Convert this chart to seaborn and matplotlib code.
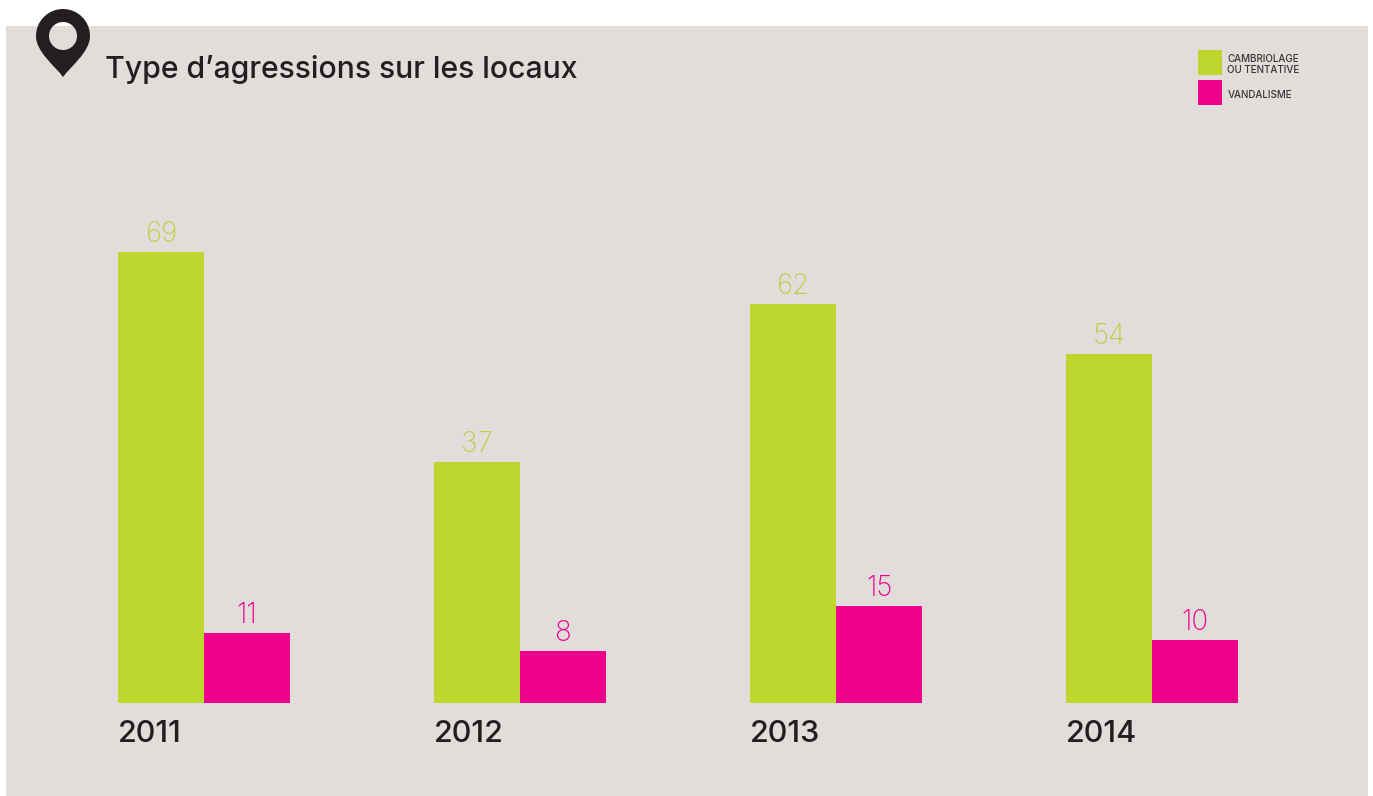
import numpy as np
import pandas as pd
import matplotlib
matplotlib.use("Agg")
import matplotlib.pyplot as plt
from matplotlib.patches import Rectangle, PathPatch
from matplotlib.path import Path
import seaborn as sns

years = ["2011", "2012", "2013", "2014"]
# printed numbers
cambriolage_labels = [69, 37, 62, 54]
vandalisme_labels = [11, 8, 15, 10]
# bar heights as drawn in the picture (they differ a little from the printed numbers)
cambriolage = [69, 36.9, 61.05, 53.4]
vandalisme = [10.7, 7.96, 14.8, 9.64]
series_names = ["CAMBRIOLAGE\nOU TENTATIVE", "VANDALISME"]

W, H = 1373, 796
GREEN = "#bed72f"
PINK = "#ee008c"
PANEL = "#e2dddb"
DARK = "#231f20"

sns.set_style("white")
plt.rcParams["font.family"] = ["Inter", "DejaVu Sans"]

df = pd.DataFrame({
    "year": years * 2,
    "count": cambriolage + vandalisme,
    "type": [series_names[0]] * 4 + [series_names[1]] * 4,
})

fig = plt.figure(figsize=(W / 100, H / 100), dpi=100, facecolor="white")

# grey panel behind everything
fig.patches.append(Rectangle((6 / W, 0), 1362 / W, 770 / H, transform=fig.transFigure,
                             facecolor=PANEL, edgecolor="none", zorder=-5))

# axes runs from the baseline to the top of the panel
ax = fig.add_axes([6 / W, (H - 703) / H, 1362 / W, 677 / H])
ax.patch.set_alpha(0)

bar_width = 172 / 316
sns.barplot(data=df, x="year", y="count", hue="type", order=years, hue_order=series_names,
            palette=[GREEN, PINK], width=bar_width, gap=0, saturation=1, linewidth=0, ax=ax)

ax.set_xlim((6 - 204) / 316, (1368 - 204) / 316)
ax.set_ylim(0, 677 / (451 / 69))

label_colors = ["#bccf45", PINK]
label_lists = [cambriolage_labels, vandalisme_labels]
for cont, col, labs in zip(ax.containers, label_colors, label_lists):
    ax.bar_label(cont, labels=[str(v) for v in labs], color=col, fontsize=20, fontweight=200, padding=3)

ax.set_xticks(np.arange(len(years)) - bar_width / 2)
ax.set_xticklabels(years, ha="left", fontsize=22, fontweight=500, color=DARK)
ax.tick_params(axis="x", length=0, pad=12)
ax.set_yticks([])
ax.set_xlabel("")
ax.set_ylabel("")
sns.despine(ax=ax, left=True, bottom=True, top=True, right=True)

leg = ax.legend(loc="upper left", bbox_to_anchor=((1198 - 6) / 1362, (703 - 50) / 677),
                bbox_transform=ax.transAxes, frameon=False, fontsize=7.1, borderpad=0,
                borderaxespad=0, handlelength=2.43, handleheight=3.52, handletextpad=0.55,
                labelspacing=0.5, title=None, labelcolor="#3a3536")
for txt in leg.get_texts():
    txt.set_y(-3)
    txt.set_fontweight(500)
    txt.set_linespacing(1.1)

# title
fig.text(105 / W, 1 - 69 / H, "Type d\u2019agressions sur les locaux", fontsize=21.75,
         fontweight=500, color=DARK, va="center", ha="left")

# map pin
k = 0.5523
cx, cy, r, tip = 63, 36, 27, 77
ri = 14
verts = [
    (cx, tip), (cx - 8, 66), (cx - r, 52), (cx - r, cy),
    (cx - r, cy - r * k), (cx - r * k, cy - r), (cx, cy - r),
    (cx + r * k, cy - r), (cx + r, cy - r * k), (cx + r, cy),
    (cx + r, 52), (cx + 8, 66), (cx, tip), (cx, tip),
    (cx, cy - ri), (cx - ri * k, cy - ri), (cx - ri, cy - ri * k), (cx - ri, cy),
    (cx - ri, cy + ri * k), (cx - ri * k, cy + ri), (cx, cy + ri),
    (cx + ri * k, cy + ri), (cx + ri, cy + ri * k), (cx + ri, cy),
    (cx + ri, cy - ri * k), (cx + ri * k, cy - ri), (cx, cy - ri), (cx, cy - ri),
]
codes = [Path.MOVETO] + [Path.CURVE4] * 12 + [Path.CLOSEPOLY, Path.MOVETO] + [Path.CURVE4] * 12 + [Path.CLOSEPOLY]
pin = Path([(x / W, 1 - y / H) for x, y in verts], codes)
fig.patches.append(PathPatch(pin, transform=fig.transFigure, facecolor=DARK, edgecolor="none", zorder=5))

fig.savefig("out.png", dpi=100, facecolor="white")
